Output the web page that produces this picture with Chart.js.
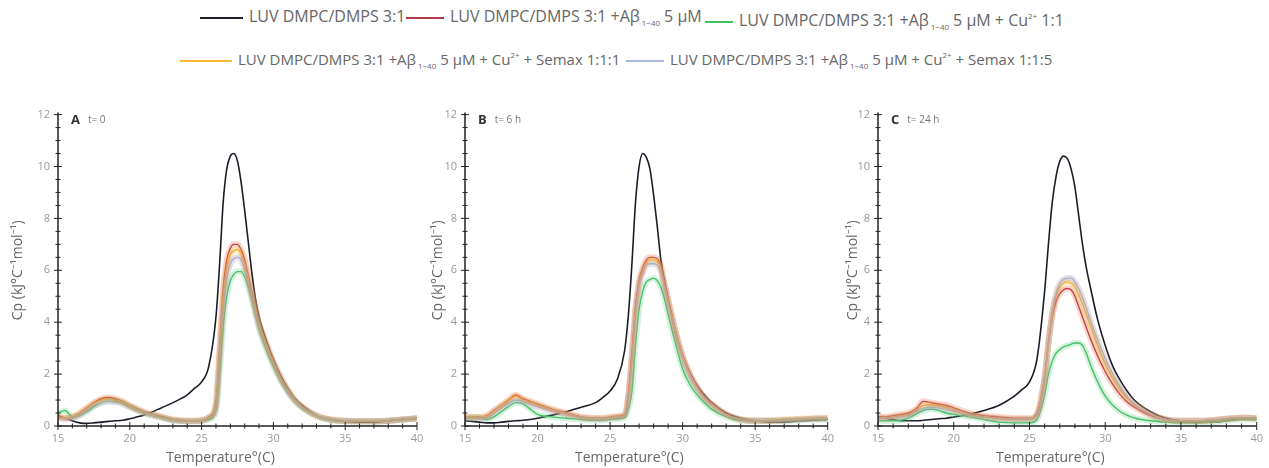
<!DOCTYPE html>
<html>
<head>
<meta charset="utf-8">
<script src="https://cdn.jsdelivr.net/npm/chart.js@4"></script>
<style>
  body { margin: 0; width: 1269px; height: 468px; background: #fff; position: relative; overflow: hidden;
         font-family: "Open Sans", sans-serif; }
  .item { position: absolute; color: #666; white-space: nowrap; line-height: 18px; }
  .row1 { font-size: 16px; top: 7px; }
  .row2 { font-size: 15px; top: 46px; }
  .swatch { display: inline-block; height: 2px; margin-right: 6px; vertical-align: middle; }
  sub { font-size: 8px; vertical-align: -4px; margin: 0 4px 0 2px; }
  sup { font-size: 8px; vertical-align: 7px; }
  .panel { position: absolute; top: 100px; height: 368px; }
</style>
</head>
<body>
<div class="item row1" style="left:200px;"><span class="swatch" style="width:43px;background:#1c1c28"></span>LUV DMPC/DMPS 3:1</div>
<div class="item row1" style="left:406px;"><span class="swatch" style="width:38px;background:#b23a48"></span>LUV DMPC/DMPS 3:1 +Aβ<sub>1−40</sub>5 μM</div>
<div class="item row1" style="left:705px;"><span class="swatch" style="width:28px;background:#3cc060"></span>LUV DMPC/DMPS 3:1 +Aβ<sub>1−40</sub>5 μM + Cu<sup>2+</sup> 1:1</div>
<div class="item row2" style="left:180px;"><span class="swatch" style="width:52px;background:#f5b82e"></span>LUV DMPC/DMPS 3:1 +Aβ<sub>1−40</sub>5 μM + Cu<sup>2+</sup> + Semax 1:1:1</div>
<div class="item row2" style="left:626px;"><span class="swatch" style="width:38px;background:#a8b8e0"></span>LUV DMPC/DMPS 3:1 +Aβ<sub>1−40</sub>5 μM + Cu<sup>2+</sup> + Semax 1:1:5</div>

<div class="panel" style="left:0px;width:430px;"><canvas id="chartA"></canvas></div>
<div class="panel" style="left:420px;width:420px;"><canvas id="chartB"></canvas></div>
<div class="panel" style="left:835px;width:434px;"><canvas id="chartC"></canvas></div>

<script>
// temperature grid (°C)
const temps = [15, 15.5, 16, 16.5, 17, 17.5, 18, 18.5, 19, 19.5, 20, 21, 22, 23, 24, 24.5, 25, 25.5,
  26, 26.25, 26.5, 26.75, 27, 27.25, 27.5, 27.75, 28, 28.25, 28.5, 28.75, 29, 29.5, 30, 30.5, 31, 31.5,
  32, 33, 34, 35, 36, 37, 38, 39, 40];

const seriesLabels = ['LUV DMPC/DMPS 3:1', 'LUV DMPC/DMPS 3:1 +Aβ1-40 5 μM', 'LUV DMPC/DMPS 3:1 +Aβ1-40 5 μM + Cu2+ 1:1',
  'LUV DMPC/DMPS 3:1 +Aβ1-40 5 μM + Cu2+ + Semax 1:1:1', 'LUV DMPC/DMPS 3:1 +Aβ1-40 5 μM + Cu2+ + Semax 1:1:5'];
const yTicks = [0, 2, 4, 6, 8, 10, 12];
const xTicks = [15, 20, 25, 30, 35, 40];

// Panel A, t = 0
const aBlack = [0.4, 0.3, 0.2, 0.12, 0.1, 0.12, 0.15, 0.18, 0.2, 0.22, 0.28, 0.42, 0.65, 0.9, 1.2, 1.45, 1.7, 2.3,
  4.2, 6.2, 8.6, 9.9, 10.4, 10.5, 10.2, 9.4, 8.3, 7.1, 5.9, 4.9, 4.2, 3.3, 2.55, 1.95, 1.45, 1.05,
  0.8, 0.4, 0.25, 0.18, 0.15, 0.15, 0.2, 0.25, 0.3];
const aRed = [0.35, 0.3, 0.35, 0.5, 0.7, 0.9, 1.05, 1.1, 1.05, 0.95, 0.8, 0.55, 0.4, 0.25, 0.2, 0.2, 0.22, 0.35,
  0.9, 3.0, 5.3, 6.4, 6.85, 7.0, 7.0, 6.8, 6.4, 5.8, 5.2, 4.6, 4.0, 3.2, 2.5, 1.9, 1.4, 1.0,
  0.75, 0.4, 0.25, 0.2, 0.18, 0.18, 0.2, 0.25, 0.3];
const aGreen = [0.5, 0.6, 0.35, 0.4, 0.55, 0.75, 0.9, 0.95, 0.95, 0.9, 0.75, 0.5, 0.35, 0.22, 0.18, 0.18, 0.2, 0.25,
  0.6, 2.0, 3.8, 5.0, 5.6, 5.85, 5.95, 5.95, 5.75, 5.35, 4.85, 4.3, 3.75, 2.95, 2.3, 1.75, 1.3, 0.95,
  0.7, 0.38, 0.22, 0.18, 0.18, 0.18, 0.2, 0.25, 0.3];
const aYellow = [0.35, 0.32, 0.35, 0.48, 0.68, 0.88, 1.0, 1.05, 1.0, 0.92, 0.78, 0.52, 0.38, 0.24, 0.2, 0.2, 0.22, 0.32,
  0.8, 2.8, 5.0, 6.1, 6.6, 6.75, 6.8, 6.65, 6.25, 5.7, 5.1, 4.5, 3.95, 3.15, 2.45, 1.85, 1.38, 1.0,
  0.74, 0.4, 0.25, 0.2, 0.18, 0.18, 0.2, 0.25, 0.3];
const aBlue = [0.3, 0.28, 0.3, 0.42, 0.6, 0.78, 0.9, 0.95, 0.92, 0.85, 0.72, 0.5, 0.36, 0.22, 0.18, 0.18, 0.2, 0.3,
  0.7, 2.5, 4.5, 5.7, 6.25, 6.45, 6.5, 6.4, 6.05, 5.55, 5.0, 4.4, 3.85, 3.05, 2.4, 1.8, 1.35, 0.98,
  0.72, 0.4, 0.24, 0.2, 0.18, 0.18, 0.2, 0.25, 0.3];

// Panel B, t = 6 h
const bBlack = [0.2, 0.18, 0.15, 0.12, 0.12, 0.15, 0.18, 0.2, 0.22, 0.25, 0.3, 0.42, 0.55, 0.72, 0.9, 1.1, 1.35, 1.8,
  2.9, 4.2, 6.2, 8.6, 10.0, 10.5, 10.35, 9.9, 8.9, 7.7, 6.4, 5.6, 4.9, 3.6, 2.7, 2.05, 1.55, 1.2,
  0.9, 0.5, 0.3, 0.2, 0.15, 0.15, 0.2, 0.22, 0.25];
const bRed = [0.35, 0.35, 0.35, 0.4, 0.6, 0.8, 1.0, 1.2, 1.05, 0.95, 0.85, 0.65, 0.5, 0.35, 0.3, 0.3, 0.35, 0.38,
  0.45, 1.2, 2.8, 4.6, 5.6, 6.1, 6.4, 6.5, 6.5, 6.45, 6.2, 5.5, 4.9, 3.7, 2.7, 2.0, 1.5, 1.1,
  0.85, 0.45, 0.25, 0.2, 0.2, 0.22, 0.25, 0.28, 0.3];
const bGreen = [0.3, 0.3, 0.3, 0.25, 0.35, 0.55, 0.75, 0.9, 0.85, 0.65, 0.45, 0.35, 0.3, 0.25, 0.22, 0.22, 0.25, 0.28,
  0.32, 0.65, 1.3, 3.1, 4.5, 5.2, 5.55, 5.65, 5.7, 5.6, 5.35, 4.9, 4.3, 3.2, 2.2, 1.6, 1.2, 0.9,
  0.65, 0.35, 0.22, 0.2, 0.2, 0.2, 0.22, 0.25, 0.25];
const bYellow = [0.35, 0.35, 0.35, 0.38, 0.58, 0.78, 0.98, 1.15, 1.02, 0.92, 0.82, 0.62, 0.48, 0.34, 0.3, 0.3, 0.34, 0.36,
  0.42, 1.1, 2.6, 4.4, 5.5, 6.0, 6.3, 6.4, 6.4, 6.35, 6.1, 5.45, 4.85, 3.65, 2.7, 2.0, 1.5, 1.1,
  0.85, 0.45, 0.26, 0.2, 0.22, 0.25, 0.28, 0.3, 0.32];
const bBlue = [0.3, 0.3, 0.3, 0.32, 0.5, 0.7, 0.88, 1.0, 0.95, 0.85, 0.75, 0.58, 0.45, 0.32, 0.28, 0.28, 0.3, 0.33,
  0.4, 1.0, 2.5, 4.3, 5.4, 5.9, 6.2, 6.25, 6.25, 6.2, 5.95, 5.35, 4.75, 3.6, 2.65, 1.95, 1.45, 1.08,
  0.82, 0.44, 0.25, 0.2, 0.2, 0.22, 0.25, 0.28, 0.3];

// Panel C, t = 24 h
const cBlack = [0.35, 0.3, 0.25, 0.2, 0.2, 0.2, 0.22, 0.25, 0.28, 0.3, 0.35, 0.45, 0.6, 0.8, 1.15, 1.4, 1.7, 2.6,
  5.2, 7.0, 8.6, 9.6, 10.2, 10.4, 10.3, 9.9, 9.2, 8.1, 7.0, 6.1, 5.4, 4.1, 3.1, 2.3, 1.75, 1.3,
  0.95, 0.55, 0.3, 0.2, 0.15, 0.15, 0.2, 0.28, 0.3];
const cRed = [0.35, 0.35, 0.4, 0.45, 0.5, 0.65, 0.95, 0.9, 0.85, 0.8, 0.7, 0.5, 0.4, 0.35, 0.3, 0.3, 0.3, 0.5,
  1.9, 3.2, 4.2, 4.8, 5.1, 5.25, 5.3, 5.25, 5.0, 4.6, 4.2, 3.8, 3.4, 2.7, 2.1, 1.6, 1.2, 0.9,
  0.7, 0.4, 0.25, 0.2, 0.2, 0.22, 0.28, 0.32, 0.3];
const cGreen = [0.2, 0.2, 0.2, 0.22, 0.3, 0.45, 0.6, 0.65, 0.6, 0.5, 0.45, 0.35, 0.25, 0.15, 0.12, 0.12, 0.12, 0.25,
  1.2, 2.0, 2.5, 2.8, 2.95, 3.05, 3.1, 3.15, 3.2, 3.2, 3.1, 2.8, 2.4, 1.7, 1.15, 0.8, 0.55, 0.4,
  0.3, 0.2, 0.15, 0.12, 0.12, 0.15, 0.2, 0.25, 0.25];
const cYellow = [0.32, 0.32, 0.35, 0.4, 0.45, 0.6, 0.8, 0.82, 0.78, 0.72, 0.62, 0.45, 0.36, 0.3, 0.28, 0.28, 0.28, 0.45,
  1.85, 3.2, 4.3, 5.0, 5.35, 5.5, 5.55, 5.5, 5.35, 5.05, 4.7, 4.3, 3.9, 3.1, 2.4, 1.85, 1.4, 1.05,
  0.8, 0.45, 0.25, 0.2, 0.2, 0.22, 0.28, 0.32, 0.3];
const cBlue = [0.3, 0.3, 0.32, 0.35, 0.4, 0.55, 0.68, 0.72, 0.7, 0.65, 0.58, 0.42, 0.34, 0.28, 0.26, 0.26, 0.26, 0.42,
  1.8, 3.2, 4.4, 5.1, 5.5, 5.65, 5.7, 5.7, 5.55, 5.3, 4.95, 4.55, 4.1, 3.3, 2.6, 2.0, 1.5, 1.1,
  0.8, 0.45, 0.25, 0.2, 0.2, 0.22, 0.28, 0.32, 0.3];

const colors = ['#1c1c28', '#b23a48', '#3cc060', '#f5b82e', '#a8b8e0'];
const bands = ['rgba(0,0,0,0)', 'rgba(230,90,60,0.25)', 'rgba(90,200,120,0.25)', 'rgba(245,180,60,0.3)', 'rgba(170,150,180,0.3)'];

function toPoints(values) {
  return values.map((v, i) => ({ x: temps[i], y: v }));
}

function buildDatasets(series) {
  const sets = [];
  // draw order: light blue, yellow, green, red, black
  [4, 3, 2, 1].forEach(k => {
    sets.push({ label: seriesLabels[k] + ' band', data: toPoints(series[k]), borderColor: bands[k],
      borderWidth: 6, pointRadius: 0, cubicInterpolationMode: 'monotone', fill: false });
  });
  [4, 3, 2, 1, 0].forEach(k => {
    sets.push({ label: seriesLabels[k], data: toPoints(series[k]), borderColor: colors[k],
      borderWidth: k === 0 ? 1.6 : 1.4, pointRadius: 0, cubicInterpolationMode: 'monotone', fill: false });
  });
  return sets;
}

// axis lines with ticks crossing the axis, major + minor; panel tag; x title
const axisPlugin = {
  id: 'axisTicks',
  afterDraw(chart) {
    const ctx = chart.ctx, area = chart.chartArea;
    const xs = chart.scales.x, ys = chart.scales.y;
    ctx.save();
    ctx.strokeStyle = '#222';
    ctx.lineWidth = 1.5;
    ctx.beginPath();
    ctx.moveTo(area.left, area.top - 2);
    ctx.lineTo(area.left, area.bottom);
    ctx.lineTo(area.right, area.bottom);
    ctx.stroke();
    ctx.lineWidth = 1;
    for (let v = 0; v <= 12; v += 0.5) {
      const y = ys.getPixelForValue(v);
      const len = v % 2 === 0 ? 4 : 2.5;
      ctx.beginPath();
      ctx.moveTo(area.left - len, y);
      ctx.lineTo(area.left + len, y);
      ctx.stroke();
    }
    for (let t = 15; t <= 40; t += 1) {
      const x = xs.getPixelForValue(t);
      const len = t % 5 === 0 ? 4 : 2.5;
      ctx.beginPath();
      ctx.moveTo(x, area.bottom - len);
      ctx.lineTo(x, area.bottom + len);
      ctx.stroke();
    }
    const opts = chart.options.plugins.axisTicks;
    ctx.fillStyle = '#333';
    ctx.font = 'bold 13px "Open Sans"';
    ctx.textBaseline = 'middle';
    ctx.fillText(opts.letter, area.left + 13, area.top + 6);
    const w = ctx.measureText(opts.letter).width;
    ctx.fillStyle = '#777';
    ctx.font = '10px "Open Sans"';
    ctx.fillText(opts.time, area.left + 13 + w + 8, area.top + 6);
    // x axis title, sits a little left of centre in the original
    ctx.fillStyle = '#666';
    ctx.font = '14px "Open Sans"';
    ctx.textAlign = 'center';
    ctx.fillText('Temperature°(C)', (area.left + area.right) / 2 - 17, area.bottom + 32);
    ctx.restore();
  }
};

function makeChart(id, series, letter, time, yWidth, padRight) {
  return new Chart(document.getElementById(id), {
    type: 'line',
    data: { datasets: buildDatasets(series) },
    options: {
      responsive: true,
      maintainAspectRatio: false,
      animation: false,
      layout: { padding: { top: 10, right: padRight, left: 0, bottom: 0 } },
      plugins: {
        legend: { display: false },
        tooltip: { enabled: false },
        axisTicks: { letter: letter, time: time }
      },
      scales: {
        x: {
          type: 'linear', min: 15, max: 40,
          afterBuildTicks: s => { s.ticks = xTicks.map(v => ({ value: v })); },
          grid: { display: false, drawTicks: false },
          border: { display: false },
          ticks: { color: '#999', font: { size: 11, family: 'Open Sans' }, padding: 6 },
          title: { display: false },
          afterFit: s => { s.height = 42; }
        },
        y: {
          min: 0, max: 12,
          afterBuildTicks: s => { s.ticks = yTicks.map(v => ({ value: v })); },
          grid: { display: false, drawTicks: false },
          border: { display: false },
          ticks: { color: '#999', font: { size: 11, family: 'Open Sans' }, padding: 8 },
          title: { display: true, text: 'Cp (kJ°C⁻¹mol⁻¹)', color: '#666',
                   font: { size: 14, family: 'Open Sans' }, padding: { top: 10, bottom: 4 } },
          afterFit: s => { s.width = yWidth; }
        }
      }
    },
    plugins: [axisPlugin]
  });
}

makeChart('chartA', [aBlack, aRed, aGreen, aYellow, aBlue], 'A', 't= 0', 58, 13);
makeChart('chartB', [bBlack, bRed, bGreen, bYellow, bBlue], 'B', 't= 6 h', 45, 12);
makeChart('chartC', [cBlack, cRed, cGreen, cYellow, cBlue], 'C', 't= 24 h', 43, 9);
</script>
</body>
</html>
